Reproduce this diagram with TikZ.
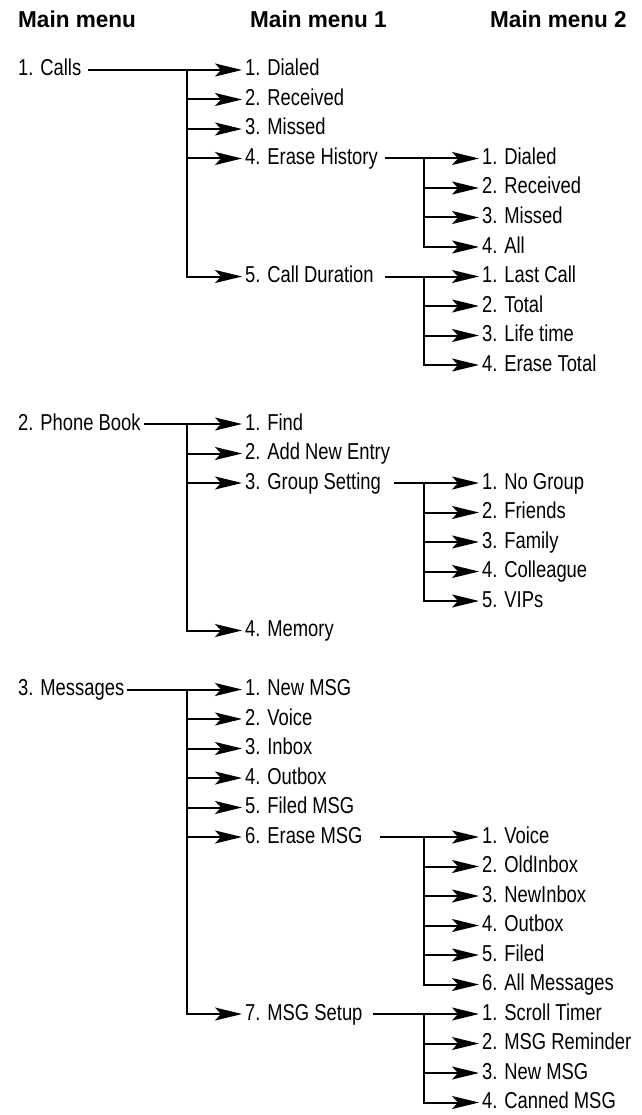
\documentclass[tikz,border=0pt]{standalone}
\usepackage{fontspec}
\setmainfont{Liberation Sans}[FakeStretch=0.8]
\newfontfamily\headfont{Liberation Sans}[FakeStretch=0.98]
\usepackage{tikz}
\usetikzlibrary{arrows.meta,positioning}

\newcommand{\rowy}[1]{70+29.5*#1}

\tikzset{
  item/.style={anchor=west,inner xsep=3pt,inner ysep=0pt,text height=16pt,text depth=4pt,font=\fontsize{23pt}{27pt}\selectfont},
  head/.style={item,font=\headfont\bfseries\fontsize{23pt}{27pt}\selectfont},
  link/.style={line width=2pt},
  arr/.style={link,-{Stealth[length=27pt,width=13pt,inset=6pt]}},
}

\begin{document}
\begin{tikzpicture}[x=1pt,y=-1pt]
  \useasboundingbox (0,0) rectangle (641,1115);

  % headers
  \node[head] (h0) at (15,22) {Main menu};
  \node[head] (h1) at (247,22) {Main menu 1};
  \node[head] (h2) at (487,22) {Main menu 2};

  % main menu
  \node[item] (calls) at (15,{\rowy{0}}) {1. Calls};
  \node[item] (book) at (15,{\rowy{12}}) {2. Phone Book};
  \node[item] (msg) at (15,{\rowy{21}}) {3. Messages};

  % main menu 1
  \node[item] (calls1) at (242,{\rowy{0}}) {1. Dialed};
  \node[item] (calls2) at (242,{\rowy{1}}) {2. Received};
  \node[item] (calls3) at (242,{\rowy{2}}) {3. Missed};
  \node[item] (calls4) at (242,{\rowy{3}}) {4. Erase History};
  \node[item] (calls5) at (242,{\rowy{7}}) {5. Call Duration};

  \node[item] (book1) at (242,{\rowy{12}}) {1. Find};
  \node[item] (book2) at (242,{\rowy{13}}) {2. Add New Entry};
  \node[item] (book3) at (242,{\rowy{14}}) {3. Group Setting};
  \node[item] (book4) at (242,{\rowy{19}}) {4. Memory};

  \node[item] (msg1) at (242,{\rowy{21}}) {1. New MSG};
  \node[item] (msg2) at (242,{\rowy{22}}) {2. Voice};
  \node[item] (msg3) at (242,{\rowy{23}}) {3. Inbox};
  \node[item] (msg4) at (242,{\rowy{24}}) {4. Outbox};
  \node[item] (msg5) at (242,{\rowy{25}}) {5. Filed MSG};
  \node[item] (msg6) at (242,{\rowy{26}}) {6. Erase MSG};
  \node[item] (msg7) at (242,{\rowy{32}}) {7. MSG Setup};

  % main menu 2
  \node[item] (eh1) at (479,{\rowy{3}}) {1. Dialed};
  \node[item] (eh2) at (479,{\rowy{4}}) {2. Received};
  \node[item] (eh3) at (479,{\rowy{5}}) {3. Missed};
  \node[item] (eh4) at (479,{\rowy{6}}) {4. All};

  \node[item] (cd1) at (479,{\rowy{7}}) {1. Last Call};
  \node[item] (cd2) at (479,{\rowy{8}}) {2. Total};
  \node[item] (cd3) at (479,{\rowy{9}}) {3. Life time};
  \node[item] (cd4) at (479,{\rowy{10}}) {4. Erase Total};

  \node[item] (gs1) at (479,{\rowy{14}}) {1. No Group};
  \node[item] (gs2) at (479,{\rowy{15}}) {2. Friends};
  \node[item] (gs3) at (479,{\rowy{16}}) {3. Family};
  \node[item] (gs4) at (479,{\rowy{17}}) {4. Colleague};
  \node[item] (gs5) at (479,{\rowy{18}}) {5. VIPs};

  \node[item] (em1) at (479,{\rowy{26}}) {1. Voice};
  \node[item] (em2) at (479,{\rowy{27}}) {2. OldInbox};
  \node[item] (em3) at (479,{\rowy{28}}) {3. NewInbox};
  \node[item] (em4) at (479,{\rowy{29}}) {4. Outbox};
  \node[item] (em5) at (479,{\rowy{30}}) {5. Filed};
  \node[item] (em6) at (479,{\rowy{31}}) {6. All Messages};

  \node[item] (ms1) at (479,{\rowy{32}}) {1. Scroll Timer};
  \node[item] (ms2) at (479,{\rowy{33}}) {2. MSG Reminder};
  \node[item] (ms3) at (479,{\rowy{34}}) {3. New MSG};
  \node[item] (ms4) at (479,{\rowy{35}}) {4. Canned MSG};

  % branch points
  \coordinate (callsbar) at (187,{\rowy{0}});
  \coordinate (bookbar) at (187,{\rowy{12}});
  \coordinate (msgbar) at (187,{\rowy{21}});
  \coordinate (ehbar) at (424,{\rowy{3}});
  \coordinate (cdbar) at (424,{\rowy{7}});
  \coordinate (gsbar) at (424,{\rowy{14}});
  \coordinate (embar) at (424,{\rowy{26}});
  \coordinate (msbar) at (424,{\rowy{32}});

  % connectors
  \draw[arr,shorten <=4pt] (calls.east) -- (calls1.west);
  \draw[arr] (callsbar) |- (calls5.west);
  \foreach \n in {calls2,calls3,calls4}
    \draw[arr] (callsbar |- \n.west) -- (\n.west);

  \draw[arr] (book.east) -- (book1.west);
  \draw[arr] (bookbar) |- (book4.west);
  \foreach \n in {book2,book3}
    \draw[arr] (bookbar |- \n.west) -- (\n.west);

  \draw[arr] (msg.east) -- (msg1.west);
  \draw[arr] (msgbar) |- (msg7.west);
  \foreach \n in {msg2,msg3,msg4,msg5,msg6}
    \draw[arr] (msgbar |- \n.west) -- (\n.west);

  \draw[arr,shorten <=4pt] (calls4.east) -- (eh1.west);
  \draw[arr] (ehbar) |- (eh4.west);
  \foreach \n in {eh2,eh3}
    \draw[arr] (ehbar |- \n.west) -- (\n.west);

  \draw[arr,shorten <=8pt] (calls5.east) -- (cd1.west);
  \draw[arr] (cdbar) |- (cd4.west);
  \foreach \n in {cd2,cd3}
    \draw[arr] (cdbar |- \n.west) -- (\n.west);

  \draw[arr,shorten <=10pt] (book3.east) -- (gs1.west);
  \draw[arr] (gsbar) |- (gs5.west);
  \foreach \n in {gs2,gs3,gs4}
    \draw[arr] (gsbar |- \n.west) -- (\n.west);

  \draw[arr,shorten <=14pt] (msg6.east) -- (em1.west);
  \draw[arr] (embar) |- (em6.west);
  \foreach \n in {em2,em3,em4,em5}
    \draw[arr] (embar |- \n.west) -- (\n.west);

  \draw[arr,shorten <=7pt] (msg7.east) -- (ms1.west);
  \draw[arr] (msbar) |- (ms4.west);
  \foreach \n in {ms2,ms3}
    \draw[arr] (msbar |- \n.west) -- (\n.west);
\end{tikzpicture}
\end{document}
